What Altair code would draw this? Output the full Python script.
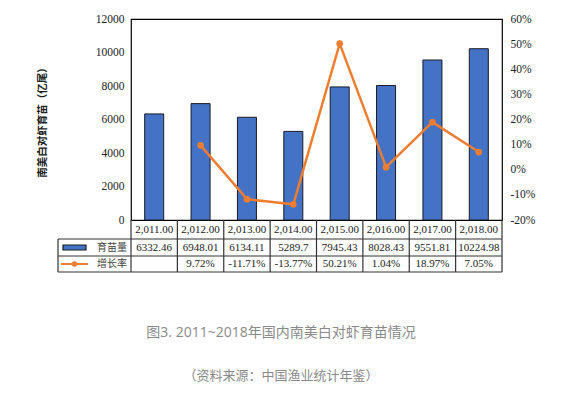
import altair as alt
import pandas as pd

# ---------------- data ----------------
years = ["2011", "2012", "2013", "2014", "2015", "2016", "2017", "2018"]
year_labels = ["2,011.00", "2,012.00", "2,013.00", "2,014.00", "2,015.00", "2,016.00", "2,017.00", "2,018.00"]
seedlings = [6332.46, 6948.01, 6134.11, 5289.7, 7945.43, 8028.43, 9551.81, 10224.98]
seedling_labels = ["6332.46", "6948.01", "6134.11", "5289.7", "7945.43", "8028.43", "9551.81", "10224.98"]
growth = [None, 9.72, -11.71, -13.77, 50.21, 1.04, 18.97, 7.05]
growth_labels = ["", "9.72%", "-11.71%", "-13.77%", "50.21%", "1.04%", "18.97%", "7.05%"]

left_ticks = [0, 2000, 4000, 6000, 8000, 10000, 12000]
right_ticks = [-20, -10, 0, 10, 20, 30, 40, 50, 60]

y_title = "南美白对虾育苗（亿尾）"
series_names = ["育苗量", "增长率"]
caption = "图3. 2011~2018年国内南美白对虾育苗情况"
source = "（资料来源：中国渔业统计年鉴）"

df = pd.DataFrame({
    "year": years,
    "year_label": year_labels,
    "seedlings": seedlings,
    "seedling_label": seedling_labels,
    "growth": growth,
    "growth_label": growth_labels,
})

# ---------------- layout ----------------
W, H = 371, 201
STEP = W / len(years)
ROW1_B, ROW2_B, ROW3_B = H + 19, H + 36, H + 52   # table row bottoms (px)
LEG_L = -73                                      # left edge of legend column
SERIF = "Liberation Serif"
CJK = "Noto Sans CJK SC"
SANS = "'Open Sans', 'Noto Sans CJK SC', sans-serif"
BLUE = "#4472C4"
ORANGE = "#ED7D31"
LINE = "#333333"

x_enc = alt.X("year:O", scale=alt.Scale(domain=years, paddingInner=0.59, paddingOuter=0.295), axis=None)

bars = alt.Chart(df).mark_bar(color=BLUE, stroke="#1a1a2a", strokeWidth=1).encode(
    x=x_enc,
    y=alt.Y("seedlings:Q",
            scale=alt.Scale(domain=[0, 12000], nice=False),
            axis=alt.Axis(orient="left", values=left_ticks, format="d", grid=False, ticks=False,
                          domain=False, labelPadding=7, labelFont=SERIF, labelFontSize=11.5,
                          labelColor="#222", title=y_title, titleFont=CJK, titleFontSize=10.5,
                          titleFontWeight="bold", titleColor="#222", titleX=-89, titleY=H / 2,
                          titleAngle=270, titleAlign="center", titleBaseline="middle")),
)

line = alt.Chart(df).transform_filter("isValid(datum.growth)").mark_line(
    color=ORANGE, strokeWidth=2.5,
    point=alt.OverlayMarkDef(color=ORANGE, size=45, filled=True),
).encode(
    x=x_enc,
    y=alt.Y("growth:Q",
            scale=alt.Scale(domain=[-20, 60], nice=False),
            axis=alt.Axis(orient="right", values=right_ticks, labelExpr="datum.value + '%'",
                          grid=False, ticks=False, domain=False, labelPadding=8,
                          labelFont=SERIF, labelFontSize=11.5, labelColor="#222", title="")),
)

def row_text(field, ypos):
    return alt.Chart(df).mark_text(font=SERIF, fontSize=11, color="#222", baseline="middle").encode(
        x=x_enc, y=alt.value(ypos), text=f"{field}:N")

t_year = row_text("year_label", (H + ROW1_B) / 2)
t_seed = row_text("seedling_label", (ROW1_B + ROW2_B) / 2)
t_growth = row_text("growth_label", (ROW2_B + ROW3_B) / 2)

# table grid segments (pixel positions)
segs = []
for yy in (ROW1_B, ROW2_B, ROW3_B):
    segs.append({"x1": LEG_L, "x2": W, "y1": yy, "y2": yy})
for i in range(len(years) + 1):
    segs.append({"x1": i * STEP, "x2": i * STEP, "y1": H, "y2": ROW3_B})
segs.append({"x1": LEG_L, "x2": LEG_L, "y1": ROW1_B, "y2": ROW3_B})
grid = alt.Chart(pd.DataFrame(segs)).mark_rule(color=LINE, strokeWidth=1.2).encode(
    x=alt.X("x1:Q", scale=None), x2="x2:Q",
    y=alt.Y("y1:Q", scale=None), y2="y2:Q",
)

# legend keys inside table
leg_rect = alt.Chart(pd.DataFrame({"a": [-68], "b": [-45], "c": [(ROW1_B + ROW2_B) / 2 - 2.5], "d": [(ROW1_B + ROW2_B) / 2 + 2.5]})).mark_rect(
    color=BLUE, stroke="#1a1a2a", strokeWidth=1.2).encode(
    x=alt.X("a:Q", scale=None), x2="b:Q", y=alt.Y("c:Q", scale=None), y2="d:Q")
ly = (ROW2_B + ROW3_B) / 2
leg_line = alt.Chart(pd.DataFrame({"a": [-70], "b": [-43], "c": [ly]})).mark_rule(color=ORANGE, strokeWidth=2).encode(
    x=alt.X("a:Q", scale=None), x2="b:Q", y=alt.Y("c:Q", scale=None))
leg_pt = alt.Chart(pd.DataFrame({"a": [-56.5], "c": [ly]})).mark_point(color=ORANGE, filled=True, size=30, opacity=1).encode(
    x=alt.X("a:Q", scale=None), y=alt.Y("c:Q", scale=None))
leg_text = alt.Chart(pd.DataFrame({"t": series_names, "yy": [(ROW1_B + ROW2_B) / 2, ly]})).mark_text(
    font=CJK, fontSize=10, color="#444", align="right", baseline="middle").encode(
    x=alt.value(-4), y=alt.Y("yy:Q", scale=None), text="t:N")

cap = alt.Chart(pd.DataFrame({"t": [caption]})).mark_text(
    font=SANS, fontSize=14, color="#8a8a8a", align="center", baseline="middle").encode(
    x=alt.value(150), y=alt.value(314), text="t:N")
src = alt.Chart(pd.DataFrame({"t": [source]})).mark_text(
    font=SANS, fontSize=13, color="#8a8a8a", align="center", baseline="middle").encode(
    x=alt.value(150), y=alt.value(357), text="t:N")

chart = alt.layer(bars, line, t_year, t_seed, t_growth, grid, leg_rect, leg_line, leg_pt, leg_text, cap, src).resolve_scale(
    y="independent", x="independent"
).properties(
    width=W, height=H,
    autosize=alt.AutoSizeParams(type="none"),
    padding={"left": 123, "top": 11, "right": 56, "bottom": 166},
).configure_view(stroke="#000", strokeWidth=1.2)

chart.save("out.html", embed_options={"renderer": "svg", "actions": False})
